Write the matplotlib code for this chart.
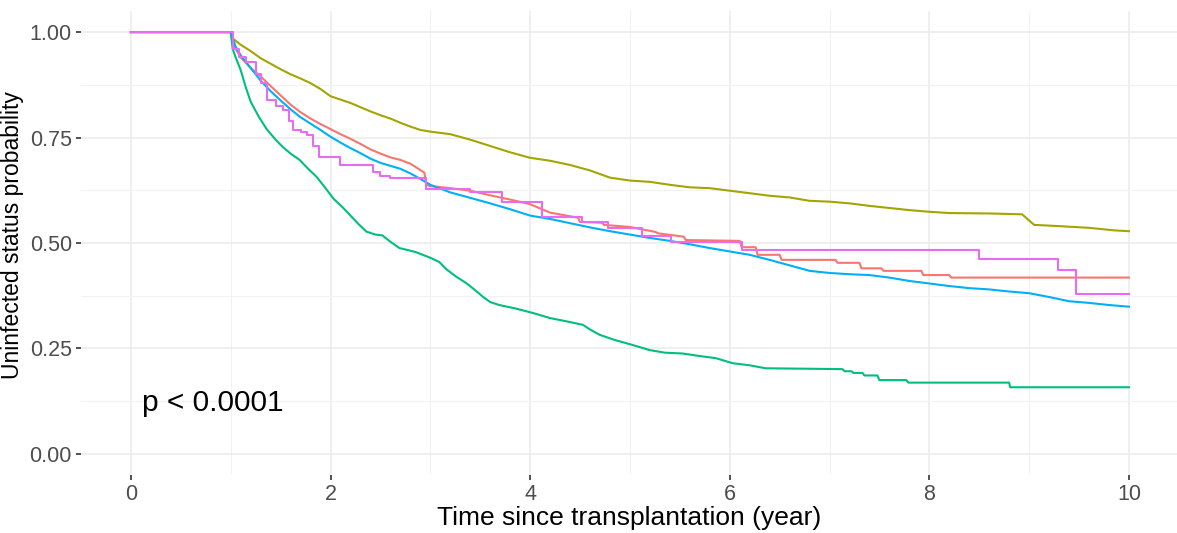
import matplotlib
matplotlib.use("Agg")
import matplotlib.pyplot as plt
from matplotlib.ticker import MultipleLocator

# curvas de sobrevida (tempo em anos, probabilidade), lidas do grafico
# onde ha degrau nitido, o ponto aparece duas vezes (antes e depois da queda)
red_t = [0, 1.0, 1.05, 1.1, 1.2, 1.3, 1.4, 1.5, 1.6, 1.7, 1.8, 1.9, 2.0, 2.1, 2.2, 2.3, 2.4, 2.5,
         2.6, 2.7, 2.8, 2.94, 2.96, 3.0, 3.2, 3.4, 3.6, 3.8, 4.0, 4.2, 4.48, 4.5, 4.72, 4.74, 5.0,
         5.26, 5.28, 5.54, 5.56, 6.1, 6.12, 6.26, 6.28, 6.5, 6.52, 7.06, 7.08, 7.3, 7.32, 7.52,
         7.54, 7.92, 7.94, 8.2, 8.22, 10.0]
red_s = [1.0, 1.0, 0.96, 0.94, 0.915, 0.895, 0.872, 0.85, 0.828, 0.81, 0.795, 0.782, 0.77, 0.758,
         0.747, 0.735, 0.722, 0.712, 0.703, 0.697, 0.688, 0.667, 0.638, 0.635, 0.63, 0.624, 0.613,
         0.603, 0.592, 0.572, 0.56, 0.55, 0.548, 0.543, 0.538, 0.526, 0.523, 0.515, 0.507, 0.505,
         0.49, 0.49, 0.472, 0.472, 0.46, 0.46, 0.453, 0.453, 0.44, 0.44, 0.434, 0.434, 0.424,
         0.424, 0.418, 0.418]

olive_t = [0, 1.0, 1.02, 1.1, 1.2, 1.3, 1.4, 1.5, 1.6, 1.7, 1.8, 1.9, 2.0, 2.1, 2.2, 2.3, 2.4, 2.5,
           2.6, 2.7, 2.8, 2.9, 3.0, 3.2, 3.4, 3.6, 3.8, 4.0, 4.2, 4.4, 4.6, 4.8, 5.0, 5.2, 5.4, 5.6,
           5.8, 6.0, 6.2, 6.4, 6.6, 6.8, 7.0, 7.2, 7.4, 7.6, 7.8, 8.0, 8.2, 8.6, 8.93, 9.05, 9.3,
           9.6, 9.85, 10.0]
olive_s = [1.0, 1.0, 0.985, 0.97, 0.955, 0.938, 0.925, 0.912, 0.9, 0.89, 0.879, 0.865, 0.848,
           0.84, 0.832, 0.822, 0.812, 0.803, 0.795, 0.785, 0.776, 0.768, 0.764, 0.758, 0.745, 0.73,
           0.715, 0.702, 0.695, 0.685, 0.672, 0.655, 0.648, 0.645, 0.638, 0.632, 0.63, 0.624,
           0.618, 0.612, 0.608, 0.6, 0.598, 0.594, 0.588, 0.583, 0.578, 0.574, 0.571, 0.57, 0.568,
           0.543, 0.54, 0.536, 0.53, 0.528]

green_t = [0, 1.0, 1.02, 1.05, 1.1, 1.15, 1.2, 1.28, 1.36, 1.45, 1.52, 1.6, 1.69, 1.78, 1.86, 1.95,
           2.03, 2.12, 2.2, 2.28, 2.36, 2.45, 2.52, 2.6, 2.69, 2.78, 2.86, 3.0, 3.09, 3.16, 3.26,
           3.36, 3.45, 3.53, 3.6, 3.69, 3.85, 4.03, 4.2, 4.35, 4.53, 4.6, 4.7, 4.85, 5.03, 5.2,
           5.35, 5.53, 5.7, 5.86, 6.03, 6.2, 6.36, 7.13, 7.15, 7.22, 7.24, 7.33, 7.35, 7.48, 7.5,
           7.77, 7.79, 8.8, 8.81, 10.0]
green_s = [1.0, 1.0, 0.96, 0.94, 0.91, 0.87, 0.835, 0.8, 0.77, 0.745, 0.728, 0.712, 0.697, 0.675,
           0.657, 0.63, 0.605, 0.585, 0.565, 0.545, 0.527, 0.52, 0.518, 0.503, 0.488, 0.483, 0.478,
           0.465, 0.455, 0.438, 0.42, 0.405, 0.388, 0.372, 0.36, 0.353, 0.345, 0.334, 0.322, 0.315,
           0.306, 0.295, 0.282, 0.27, 0.258, 0.246, 0.24, 0.238, 0.232, 0.227, 0.215, 0.21, 0.203,
           0.201, 0.196, 0.196, 0.192, 0.192, 0.186, 0.186, 0.175, 0.175, 0.169, 0.169, 0.158,
           0.158]

blue_t = [0, 1.0, 1.05, 1.1, 1.2, 1.3, 1.4, 1.5, 1.6, 1.7, 1.8, 1.9, 2.0, 2.1, 2.2, 2.3, 2.4, 2.5,
          2.6, 2.7, 2.8, 2.9, 3.0, 3.2, 3.4, 3.6, 3.8, 4.0, 4.2, 4.4, 4.6, 4.8, 5.0, 5.2, 5.4, 5.6,
          5.8, 6.0, 6.2, 6.4, 6.6, 6.8, 7.0, 7.2, 7.4, 7.6, 7.8, 8.0, 8.2, 8.4, 8.6, 8.8, 9.0,
          9.2, 9.4, 9.6, 9.8, 10.0]
blue_s = [1.0, 1.0, 0.965, 0.945, 0.915, 0.885, 0.86, 0.838, 0.817, 0.798, 0.783, 0.768, 0.752,
          0.738, 0.725, 0.713, 0.7, 0.69, 0.683, 0.676, 0.665, 0.652, 0.638, 0.62, 0.607, 0.594,
          0.58, 0.565, 0.557, 0.547, 0.537, 0.528, 0.52, 0.512, 0.505, 0.497, 0.488, 0.48, 0.472,
          0.46, 0.447, 0.434, 0.429, 0.426, 0.424, 0.418, 0.41, 0.404, 0.398, 0.393, 0.39, 0.385,
          0.381, 0.372, 0.362, 0.358, 0.353, 0.349]

# o grupo menor tem degraus grandes, entao vai em escada
magenta_t = [0, 1.0, 1.02, 1.08, 1.15, 1.25, 1.3, 1.36, 1.45, 1.52, 1.58, 1.62, 1.7, 1.76, 1.82,
             1.88, 2.1, 2.43, 2.5, 2.6, 2.96, 3.4, 3.72, 4.12, 4.52, 4.78, 5.12, 5.41, 6.12, 8.5,
             9.29, 9.47, 10.0]
magenta_s = [1.0, 1.0, 0.96, 0.94, 0.93, 0.9, 0.88, 0.84, 0.825, 0.815, 0.79, 0.768, 0.762, 0.756,
             0.73, 0.704, 0.685, 0.669, 0.66, 0.654, 0.627, 0.62, 0.597, 0.562, 0.55, 0.535, 0.517,
             0.503, 0.484, 0.462, 0.436, 0.378, 0.378]

curves = [
    (red_t, red_s, "#F8766D", "default"),
    (olive_t, olive_s, "#A3A500", "default"),
    (green_t, green_s, "#00BF7D", "default"),
    (blue_t, blue_s, "#00B0F6", "default"),
    (magenta_t, magenta_s, "#E76BF3", "steps-post"),
]

x_ticks = [0, 2, 4, 6, 8, 10]
y_ticks = [0.0, 0.25, 0.5, 0.75, 1.0]
y_labels = ["0.00", "0.25", "0.50", "0.75", "1.00"]

plt.rcParams["font.family"] = ["Liberation Sans", "DejaVu Sans"]

W, H = 1177, 533
fig = plt.figure(figsize=(W / 100, H / 100), dpi=100)
ax = fig.add_axes([81 / W, (H - 475) / H, (W - 81) / W, (475 - 11) / H])

for t, s, c, ds in curves:
    ax.plot(t, s, drawstyle=ds, color=c, lw=1.5, zorder=3)

ax.set_xlim(-0.5, -0.5 + (W - 81) / 99.8)
ax.set_ylim(-0.05, 1.05)
ax.set_xticks(x_ticks)
ax.set_yticks(y_ticks)
ax.set_yticklabels(y_labels)
ax.xaxis.set_minor_locator(MultipleLocator(1))
ax.yaxis.set_minor_locator(MultipleLocator(0.125))

# estilo parecido com theme_minimal do ggplot
for sp in ax.spines.values():
    sp.set_visible(False)
ax.grid(which="major", color="#EBEBEB", lw=1.1, zorder=0)
ax.grid(which="minor", color="#F2F2F2", lw=0.8, zorder=0)
ax.tick_params(which="major", length=3.5, width=1.2, color="#333333",
               labelsize=15.5, labelcolor="#4D4D4D", pad=3)
ax.tick_params(which="minor", length=0)

ax.text(0.11, 0.12, "p < 0.0001", fontsize=21.5, va="center", ha="left", color="black")
ax.set_xlabel("Time since transplantation (year)", fontsize=19, labelpad=1)
fig.text(1 / W, (H - 235) / H, "Uninfected status probability", rotation=90,
         ha="left", va="center", fontsize=16.5)

fig.savefig("out.png", dpi=100)
